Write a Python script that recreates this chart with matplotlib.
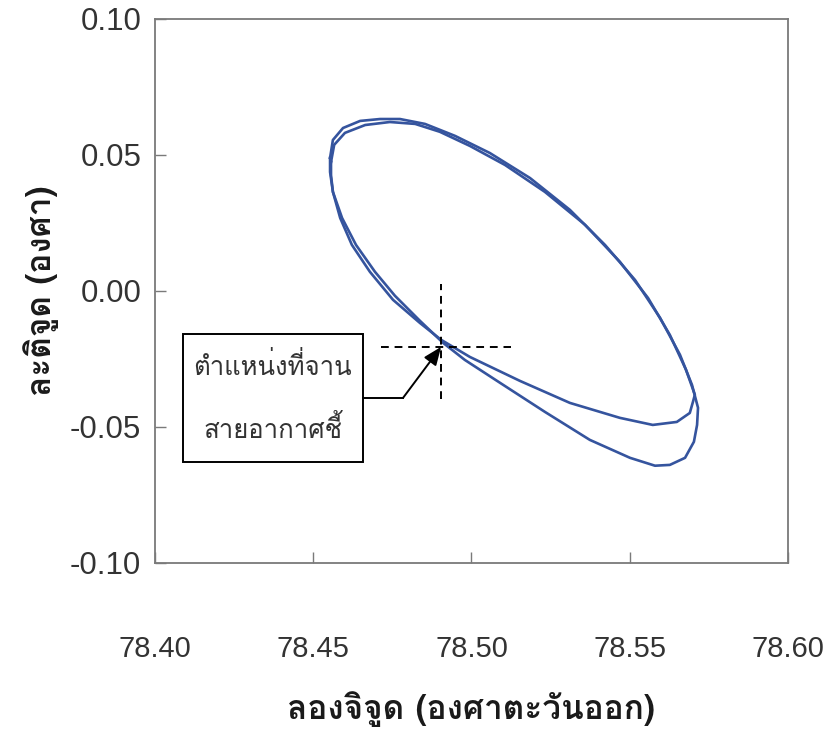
import matplotlib
matplotlib.use("Agg")
import matplotlib.pyplot as plt
from matplotlib import font_manager
from matplotlib.ft2font import FT2Font
from matplotlib.patches import Rectangle

# ground track of the satellite over two days (longitude, latitude in degrees)
lon_day1 = [78.4556, 78.4566, 78.4600, 78.4664, 78.4742, 78.4822, 78.4900, 78.4995,
            78.5106, 78.5232, 78.5359, 78.5469, 78.5558, 78.5627, 78.5678, 78.5706,
            78.5700, 78.5690, 78.5649, 78.5573, 78.5469, 78.5311, 78.5153, 78.4995,
            78.4904, 78.4837, 78.4752, 78.4679, 78.4622, 78.4585, 78.4562, 78.4556,
            78.4556]
lat_day1 = [0.0474, 0.0537, 0.0581, 0.0610, 0.0621, 0.0614, 0.0585, 0.0533,
            0.0463, 0.0364, 0.0243, 0.0107, -0.0026, -0.0162, -0.0290, -0.0382,
            -0.0408, -0.0449, -0.0482, -0.0493, -0.0467, -0.0412, -0.0331, -0.0243,
            -0.0180, -0.0118, -0.0033, 0.0070, 0.0169, 0.0268, 0.0364, 0.0426,
            0.0474]

lon_day2 = [78.4553, 78.4562, 78.4594, 78.4648, 78.4711, 78.4774, 78.4853, 78.4948,
            78.5058, 78.5185, 78.5311, 78.5422, 78.5517, 78.5596, 78.5659, 78.5697,
            78.5716, 78.5713, 78.5703, 78.5675, 78.5627, 78.5580, 78.5501, 78.5374,
            78.5232, 78.5090, 78.4979, 78.4910, 78.4837, 78.4758, 78.4695, 78.4635,
            78.4591, 78.4562, 78.4553, 78.4553]
lat_day2 = [0.0489, 0.0555, 0.0599, 0.0625, 0.0632, 0.0632, 0.0614, 0.0570,
            0.0507, 0.0415, 0.0298, 0.0169, 0.0040, -0.0099, -0.0235, -0.0346,
            -0.0430, -0.0493, -0.0555, -0.0614, -0.0640, -0.0643, -0.0614, -0.0548,
            -0.0445, -0.0338, -0.0254, -0.0191, -0.0110, -0.0018, 0.0070, 0.0169,
            0.0268, 0.0364, 0.0437, 0.0489]

# where the antenna dish is pointed
dish_lon = 78.4904
dish_lat = -0.0206

x_ticks = [78.40, 78.45, 78.50, 78.55, 78.60]
y_ticks = [-0.10, -0.05, 0.00, 0.05, 0.10]
x_ticklabels = ["78.40", "78.45", "78.50", "78.55", "78.60"]
y_ticklabels = ["-0.10", "-0.05", "0.00", "0.05", "0.10"]

xlabel = "ลองจิจูด (องศาตะวันออก)"
ylabel = "ละติจูด (องศา)"
note_lines = ["ตำแหน่งที่จาน", "สายอากาศชี้"]


def find_thai_font():
    # first installed family that has Thai glyphs
    for f in font_manager.fontManager.ttflist:
        try:
            cmap = FT2Font(f.fname).get_charmap()
        except Exception:
            continue
        if 0x0E01 in cmap and 0x0E34 in cmap:
            return f.name
    return "DejaVu Sans"


thai = find_thai_font()
names = {f.name for f in font_manager.fontManager.ttflist}
narrow = "Liberation Sans Narrow" if "Liberation Sans Narrow" in names else "Liberation Sans"

line_color = "#35549e"
frame_color = "#7a7a7a"
text_color = "#333333"

fig = plt.figure(figsize=(8.25, 7.29), dpi=100)
ax = fig.add_axes([0.188, 0.228, 0.767, 0.746])

ax.plot(lon_day1, lat_day1, color=line_color, lw=1.9, solid_joinstyle="round")
ax.plot(lon_day2, lat_day2, color=line_color, lw=1.9, solid_joinstyle="round")

# crosshair on the pointing position
ax.plot([dish_lon - 0.019, dish_lon + 0.022], [dish_lat, dish_lat],
        color="black", lw=1.4, dashes=(4, 3))
ax.plot([dish_lon, dish_lon], [dish_lat - 0.019, dish_lat + 0.023],
        color="black", lw=1.4, dashes=(4, 3))

# label box with an elbow arrow
ax.add_patch(Rectangle((0.044, 0.186), 0.284, 0.234, transform=ax.transAxes,
                       fill=False, ec="black", lw=1.4, zorder=5))
ax.text(0.186, 0.362, note_lines[0], transform=ax.transAxes, ha="center", va="center",
        fontsize=18.5, family=[thai, "DejaVu Sans"], color=text_color)
ax.text(0.186, 0.246, note_lines[1], transform=ax.transAxes, ha="center", va="center",
        fontsize=18.5, family=[thai, "DejaVu Sans"], color=text_color)
ax.plot([78.4657, 78.4784], [-0.0393, -0.0393], color="black", lw=1.4)
ax.annotate("", xy=(dish_lon, dish_lat), xytext=(78.4784, -0.0393),
            arrowprops=dict(arrowstyle="-|>,head_length=1.1,head_width=0.45",
                            color="black", lw=1.4, shrinkA=0, shrinkB=0))

ax.set_xlim(78.40, 78.60)
ax.set_ylim(-0.10, 0.10)
ax.set_xticks(x_ticks)
ax.set_yticks(y_ticks)
ax.set_xticklabels(x_ticklabels, family=narrow, fontsize=21, color=text_color)
ax.set_yticklabels(y_ticklabels, family="Liberation Sans", fontsize=22.5, color=text_color)
ax.tick_params(axis="x", direction="in", length=8, width=1, color=frame_color, pad=52)
ax.tick_params(axis="y", direction="in", length=8, width=1, color=frame_color, pad=10)

for s in ax.spines.values():
    s.set_color(frame_color)
    s.set_linewidth(1.3)

ax.set_xlabel(xlabel, family=[thai, "DejaVu Sans"], fontsize=24, fontweight="bold",
              labelpad=20, color="#1a1a1a")
ax.set_ylabel(ylabel, family=[thai, "DejaVu Sans"], fontsize=24, fontweight="bold",
              labelpad=8, color="#1a1a1a")

fig.savefig("out.png", dpi=100)
